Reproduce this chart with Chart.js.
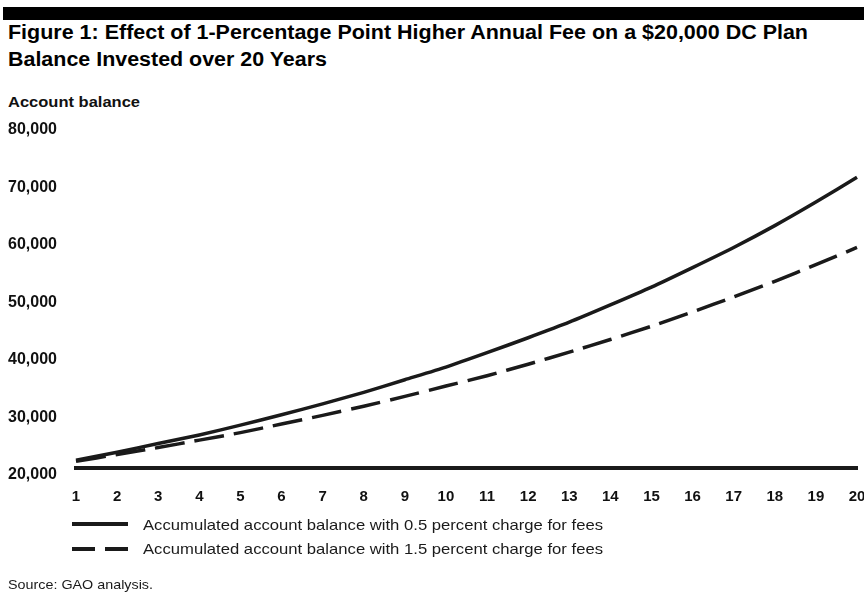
<!DOCTYPE html>
<html>
<head>
<meta charset="utf-8">
<script src="https://cdn.jsdelivr.net/npm/chart.js@4"></script>
<style>
  html, body { margin: 0; padding: 0; background: #fff; }
  body { width: 864px; height: 592px; position: relative; overflow: hidden; font-family: Arial, "Liberation Sans", sans-serif; }
  .txt { position: absolute; white-space: nowrap; line-height: 1; transform-origin: 0 0; color: #111; }
  #bar { position: absolute; left: 3px; top: 7px; width: 861px; height: 13px; background: #000; }
  #chart { position: absolute; left: 0; top: 0; }
</style>
</head>
<body>
<div id="bar"></div>
<div class="txt" data-w="800" style="left:8px;top:23px;font-size:19.5px;font-weight:bold;color:#000">Figure 1: Effect of 1-Percentage Point Higher Annual Fee on a $20,000 DC Plan</div>
<div class="txt" data-w="319" style="left:8px;top:49.5px;font-size:19.5px;font-weight:bold;color:#000">Balance Invested over 20 Years</div>
<div class="txt" data-w="132" style="left:8px;top:94.3px;font-size:15px;font-weight:bold">Account balance</div>
<canvas id="chart" width="864" height="592"></canvas>
<div class="txt" data-w="460" style="left:143px;top:516.8px;font-size:15px;color:#1a1a1a">Accumulated account balance with 0.5 percent charge for fees</div>
<div class="txt" data-w="460" style="left:143px;top:540.8px;font-size:15px;color:#1a1a1a">Accumulated account balance with 1.5 percent charge for fees</div>
<div class="txt" data-w="145" style="left:8px;top:577.6px;font-size:13.5px;color:#1a1a1a">Source: GAO analysis.</div>

<script>
const years = ["1", "2", "3", "4", "5", "6", "7", "8", "9", "10",
  "11", "12", "13", "14", "15", "16", "17", "18", "19", "20"];
const lowFee = [21300, 22700, 24200, 25700, 27400, 29200, 31100, 33100, 35300, 37500,
  40000, 42600, 45300, 48300, 51400, 54800, 58300, 62100, 66200, 70500];
const highFee = [21100, 22300, 23500, 24800, 26100, 27600, 29100, 30700, 32400, 34200,
  36000, 38000, 40100, 42300, 44600, 47100, 49700, 52400, 55300, 58300];
const yTicks = [20000, 30000, 40000, 50000, 60000, 70000, 80000];

const lineColor = "#1a1a1a";

// legend samples drawn next to the html legend text
const legendLines = {
  id: "legendLines",
  afterDraw(chart) {
    const ctx = chart.ctx;
    const rows = [524, 549];
    chart.data.datasets.forEach(function (ds, i) {
      ctx.save();
      ctx.strokeStyle = ds.borderColor;
      ctx.lineWidth = 4;
      ctx.setLineDash(ds.borderDash.length ? [23, 10] : []);
      ctx.beginPath();
      ctx.moveTo(72, rows[i]);
      ctx.lineTo(128, rows[i]);
      ctx.stroke();
      ctx.restore();
    });
  }
};

const chart = new Chart(document.getElementById("chart"), {
  type: "line",
  data: {
    labels: years,
    datasets: [
      {
        label: "Accumulated account balance with 0.5 percent charge for fees",
        data: lowFee,
        borderColor: lineColor,
        borderWidth: 3.5,
        borderDash: [],
        pointRadius: 0,
        tension: 0.2,
        fill: false
      },
      {
        label: "Accumulated account balance with 1.5 percent charge for fees",
        data: highFee,
        borderColor: lineColor,
        borderWidth: 3.5,
        borderDash: [30, 10],
        pointRadius: 0,
        tension: 0.2,
        fill: false
      }
    ]
  },
  options: {
    responsive: false,
    animation: false,
    layout: { padding: { left: 8, right: 7, top: 122.7, bottom: 84.3 } },
    plugins: {
      legend: { display: false },
      tooltip: { enabled: false }
    },
    scales: {
      x: {
        offset: false,
        grid: { display: false, drawTicks: false },
        border: { display: true, width: 4, color: lineColor },
        ticks: {
          padding: 20,
          maxRotation: 0,
          autoSkip: false,
          color: "#111",
          font: { family: "Arial", size: 15, weight: "bold" }
        },
        afterFit(scale) {
          scale.height = 40;
          // let the last label run off the edge like the original
          scale.paddingLeft = 0;
          scale.paddingRight = 0;
        }
      },
      y: {
        min: yTicks[0],
        max: yTicks[yTicks.length - 1],
        grid: { display: false, drawTicks: false },
        border: { display: false },
        afterBuildTicks(scale) {
          scale.ticks = yTicks.map(v => ({ value: v }));
        },
        ticks: {
          crossAlign: "far",
          padding: 0,
          labelOffset: 7,
          color: "#111",
          font: { family: "Arial", size: 16, weight: "bold" },
          callback: v => v.toLocaleString("en-US")
        },
        afterFit(scale) {
          scale.width = 68;
          scale.paddingTop = 0;
          scale.paddingBottom = 0;
        }
      }
    }
  },
  plugins: [legendLines]
});

// squeeze text to the widths in the figure
document.querySelectorAll(".txt").forEach(function (el) {
  const target = Number(el.dataset.w);
  const w = el.getBoundingClientRect().width;
  if (w > 0) el.style.transform = "scaleX(" + (target / w) + ")";
});
</script>
</body>
</html>
